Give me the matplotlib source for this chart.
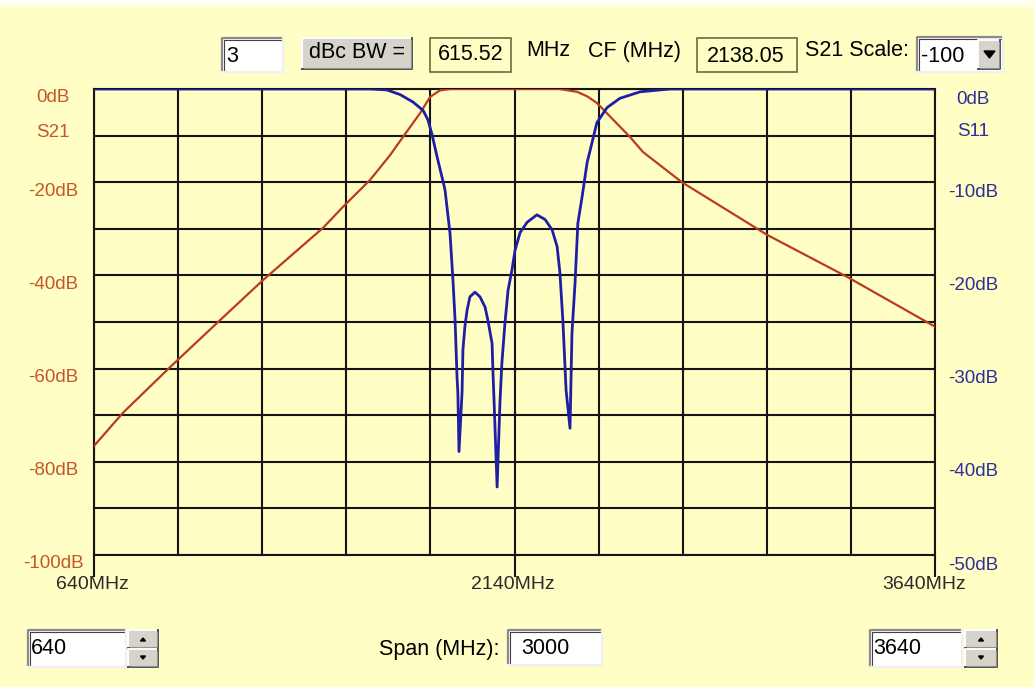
import numpy as np
import matplotlib.pyplot as plt
from matplotlib.patches import Rectangle, Polygon
from matplotlib.transforms import offset_copy

plt.rcParams['font.family'] = ['Liberation Sans', 'DejaVu Sans']

# =========================
# DATA
# =========================

f_start = 640
f_stop = 3640

# S21 (left axis, dB)
s21_freq = [640, 743, 911, 1079, 1243, 1457, 1528, 1625, 1696, 1742, 1803,
            1839, 1874, 1910, 2300, 2363, 2400, 2434, 2552, 2598, 2737,
            3041, 3326, 3640]
s21_db = [-76.6, -69.5, -59.7, -50.2, -41.0, -29.8, -25.3, -19.5, -14.2, -10.3, -5.2,
          -1.7, -0.3, 0.0, 0.0, -0.6, -1.6, -3.0, -10.3, -13.5, -20.0,
          -31.3, -40.3, -51.0]

# S11 (right axis, dB)
s11_freq = [640, 1625, 1685, 1732, 1778, 1814, 1831, 1846, 1864, 1881, 1892,
            1910, 1921, 1928, 1935, 1938, 1942, 1953, 1956, 1963, 1971,
            1981, 1999, 2017, 2035, 2045, 2060, 2063, 2067, 2078, 2088,
            2095, 2106, 2117, 2131, 2142, 2160, 2185, 2220, 2249, 2274,
            2292, 2302, 2313, 2324, 2338, 2345, 2356, 2366, 2381, 2399,
            2434, 2470, 2516, 2588, 2695, 3640]
s11_db = [0.0, 0.0, -0.1, -0.6, -1.4, -2.3, -3.3, -4.9, -7.3, -9.4, -10.8,
          -15.5, -20.8, -24.8, -30.9, -32.6, -38.9, -32.5, -28.0, -25.5, -23.7,
          -22.3, -21.8, -22.3, -23.4, -24.8, -27.3, -30.2, -33.4, -42.7, -33.7,
          -29.4, -25.1, -21.6, -19.4, -17.3, -15.4, -14.3, -13.5, -14.0, -15.1,
          -16.9, -19.7, -25.1, -32.3, -36.4, -26.2, -20.8, -14.4, -11.6, -7.9,
          -3.6, -2.0, -1.0, -0.3, 0.0, 0.0]

s21_ticks = [0, -20, -40, -60, -80, -100]
s21_labels = ["0dB", "-20dB", "-40dB", "-60dB", "-80dB", "-100dB"]
s11_ticks = [0, -10, -20, -30, -40, -50]
s11_labels = ["0dB", "-10dB", "-20dB", "-30dB", "-40dB", "-50dB"]
x_label_ticks = [640, 2140, 3640]
x_labels = ["640MHz", "2140MHz", "3640MHz"]

# widget values
bw_level = "3"
bw_value = "615.52"
cf_value = "2138.05"
scale_value = "-100"
start_value = "640"
span_value = "3000"
stop_value = "3640"

# =========================
# COLORS
# =========================

BG = '#FFFEC4'
RED = '#BE3A1C'
BLUE = '#1E1EA6'
GRID = '#151515'
LEFT_TXT = '#C8542A'
RIGHT_TXT = '#2E2E9C'

W, H = 1034, 687
fig = plt.figure(figsize=(W / 100, H / 100), dpi=100, facecolor=BG)

# =========================
# BACKGROUND / WIDGET LAYER (pixel coords)
# =========================

bg = fig.add_axes([0, 0, 1, 1], zorder=0)
bg.set_xlim(0, W)
bg.set_ylim(H, 0)
bg.axis('off')
bg.add_patch(Rectangle((0, 0), W, 7, facecolor='#FFFFF0', edgecolor='none'))


def sunken_box(x0, y0, x1, y1, fill='white'):
    bg.add_patch(Rectangle((x0, y0), x1 - x0, y1 - y0, facecolor=fill, edgecolor='none'))
    bg.plot([x0, x0, x1], [y1, y0, y0], color='#8a8a8a', lw=1.6, solid_capstyle='butt')
    bg.plot([x0 + 1.5, x0 + 1.5, x1 - 1.5], [y1 - 1.5, y0 + 1.5, y0 + 1.5],
            color='#404040', lw=0.8)
    bg.plot([x0, x1, x1], [y1, y1, y0], color='#f0f0f0', lw=1.6)


def raised_box(x0, y0, x1, y1, fill='#D6D3CB'):
    bg.add_patch(Rectangle((x0, y0), x1 - x0, y1 - y0, facecolor=fill, edgecolor='none'))
    bg.plot([x0, x0, x1], [y1, y0, y0], color='white', lw=1.4)
    bg.plot([x0, x1, x1], [y1, y1, y0], color='#505050', lw=1.4)
    bg.plot([x0 + 1.5, x1 - 1.5, x1 - 1.5], [y1 - 1.5, y1 - 1.5, y0 + 1.5],
            color='#909090', lw=0.8)


def flat_box(x0, y0, x1, y1):
    bg.add_patch(Rectangle((x0, y0), x1 - x0, y1 - y0, facecolor=BG,
                           edgecolor='#6E6A40', lw=1.2))


def spinner(x0, y0, x1, y1):
    ym = (y0 + y1) / 2
    raised_box(x0, y0, x1, ym - 0.5)
    raised_box(x0, ym + 0.5, x1, y1)
    xc = (x0 + x1) / 2
    bg.add_patch(Polygon([[xc - 2.5, y0 + 11], [xc + 2.5, y0 + 11], [xc, y0 + 8]],
                         color='black'))
    bg.add_patch(Polygon([[xc - 2.5, y1 - 11], [xc + 2.5, y1 - 11], [xc, y1 - 8]],
                         color='black'))


FS = 15.5
# top row
sunken_box(222, 38, 283, 72)
bg.text(226, 56, bw_level, fontsize=FS, va='center', ha='left')
raised_box(302, 38, 412, 69)
bg.text(357, 53, "dBc BW =", fontsize=FS, va='center', ha='center')
flat_box(430, 38, 511, 72)
bg.text(471, 55, bw_value, fontsize=FS, va='center', ha='center')
bg.text(548, 51, "MHz", fontsize=FS, va='center', ha='center')
bg.text(635, 51, "CF (MHz)", fontsize=FS, va='center', ha='center')
flat_box(697, 38, 797, 72)
bg.text(707, 56, cf_value, fontsize=FS, va='center', ha='left')
bg.text(857, 51, "S21 Scale:", fontsize=FS, va='center', ha='center')
sunken_box(917, 37, 1003, 72)
bg.text(921, 56, scale_value, fontsize=FS, va='center', ha='left')
raised_box(978, 40, 1000, 69)
bg.add_patch(Polygon([[984, 51], [995, 51], [989.5, 58]], color='black'))

# bottom row
sunken_box(28, 630, 126, 667)
bg.text(31, 649, start_value, fontsize=FS, va='center', ha='left')
spinner(128, 630, 158, 667)
bg.text(439, 649, "Span (MHz):", fontsize=FS, va='center', ha='center')
sunken_box(508, 630, 602, 665)
bg.text(521, 648, span_value, fontsize=FS, va='center', ha='left')
sunken_box(870, 630, 962, 667)
bg.text(873, 649, stop_value, fontsize=FS, va='center', ha='left')
spinner(965, 630, 997, 667)

# =========================
# PLOT AREA
# =========================

ax = fig.add_axes([94 / W, 1 - 555 / H, 841 / W, 466 / H], zorder=1)
ax.set_facecolor(BG)
ax.set_xlim(f_start, f_stop)
ax.set_ylim(-100, 0)
ax.set_xticks(np.linspace(f_start, f_stop, 11))
ax.set_yticks(np.linspace(-100, 0, 11))
ax.grid(True, color=GRID, lw=1.5)
ax.tick_params(length=0, labelleft=False, labelbottom=False)
for sp in ax.spines.values():
    sp.set_color(GRID)
    sp.set_linewidth(1.5)

ax2 = ax.twinx()
ax2.set_ylim(-50, 0)
ax2.set_yticks([])
for sp in ax2.spines.values():
    sp.set_visible(False)

ax.plot(s21_freq, s21_db, color=RED, lw=1.6, zorder=3)
ax2.plot(s11_freq, s11_db, color=BLUE, lw=2.0, zorder=4, solid_joinstyle='round')

# tick stubs below the plot
ax.vlines(x_label_ticks, -104.7, -100, color=GRID, lw=1.5, clip_on=False)

# =========================
# AXIS LABELS
# =========================

FL = 13.5
left_tr = offset_copy(ax.get_yaxis_transform(), fig=fig, x=0, y=-9, units='dots')
for v, s in zip(s21_ticks, s21_labels):
    ax.text(-0.0488, v, s, transform=left_tr, color=LEFT_TXT, fontsize=FL,
            ha='center', va='center')
ax.text(-0.0488, -9.3, "S21", transform=ax.get_yaxis_transform(), color=LEFT_TXT,
        fontsize=FL, ha='center', va='center')

right_tr = offset_copy(ax2.get_yaxis_transform(), fig=fig, x=0, y=-10, units='dots')
for v, s in zip(s11_ticks, s11_labels):
    ax2.text(1.045, v, s, transform=right_tr, color=RIGHT_TXT, fontsize=FL,
             ha='center', va='center')
ax2.text(1.045, -4.6, "S11", transform=ax2.get_yaxis_transform(), color=RIGHT_TXT,
         fontsize=FL, ha='center', va='center')

x_tr = ax.get_xaxis_transform()
for i, (v, s) in enumerate(zip(x_label_ticks, x_labels)):
    dx = -11 if i == len(x_labels) - 1 else -2
    tr = offset_copy(x_tr, fig=fig, x=dx, y=0, units='dots')
    ax.text(v, -0.064, s, transform=tr, color='#2a2a2a', fontsize=14,
            ha='center', va='center')

fig.savefig("out.png", dpi=100, facecolor=BG)
